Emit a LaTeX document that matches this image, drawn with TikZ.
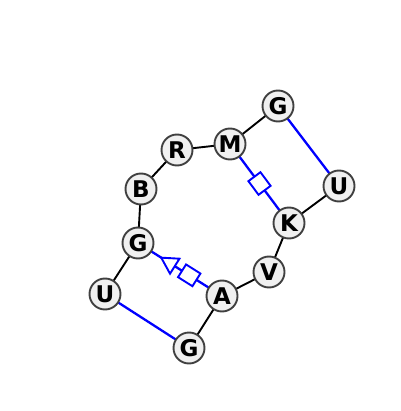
\documentclass[tikz,border=0pt]{standalone}
\usepackage{fontspec}
\setmainfont{DejaVu Sans}
\usetikzlibrary{shapes.geometric,backgrounds}
\definecolor{nfill}{HTML}{F0F0F0}
\definecolor{nedge}{HTML}{404040}
\definecolor{pblue}{HTML}{0000FF}
\begin{document}
\begin{tikzpicture}[x=1pt,y=-1pt,
  base/.style={circle,draw=nedge,fill=nfill,line width=1.9pt,minimum size=31pt,inner sep=0pt,font=\fontsize{23}{23}\selectfont\bfseries},
  bb/.style={black,line width=1.9pt},
  bp/.style={pblue,line width=2.3pt},
  sqmark/.style={draw=pblue,fill=white,line width=1.9pt,rectangle,minimum width=17pt,minimum height=15pt,inner sep=0pt,sloped},
  trimark/.style={draw=pblue,fill=white,line width=1.9pt,isosceles triangle,isosceles triangle apex angle=58,shape border rotate=180,minimum height=16pt,inner sep=0pt,sloped}]
\useasboundingbox (0,0) rectangle (400,411);
\node[base] (g1) at (278,106) {G};
\node[base] (u1) at (339,186) {U};
\node[base] (k) at (289,223) {K};
\node[base] (v) at (269,272) {V};
\node[base] (a) at (222,296) {A};
\node[base] (g3) at (189,348) {G};
\node[base] (u2) at (105,294) {U};
\node[base] (g2) at (138,243) {G};
\node[base] (b) at (141,189) {B};
\node[base] (r) at (177,150) {R};
\node[base] (m) at (230,144) {M};
\begin{scope}[on background layer]
\draw[bb] (g2.center) -- (b.center);
\draw[bb] (b.center) -- (r.center);
\draw[bb] (r.center) -- (m.center);
\draw[bb] (m.center) -- (g1.center);
\draw[bb] (u1.center) -- (k.center);
\draw[bb] (k.center) -- (v.center);
\draw[bb] (v.center) -- (a.center);
\draw[bb] (a.center) -- (g3.center);
\draw[bb] (g2.center) -- (u2.center);
\draw[bp] (g1.center) -- (u1.center);
\draw[bp] (u2.center) -- (g3.center);
\draw[bp] (m.center) -- node[sqmark,pos=0.5]{} (k.center);
\draw[bp] (g2.center) -- node[trimark,pos=0.385]{} node[sqmark,pos=0.61]{} (a.center);
\end{scope}
\end{tikzpicture}
\end{document}
